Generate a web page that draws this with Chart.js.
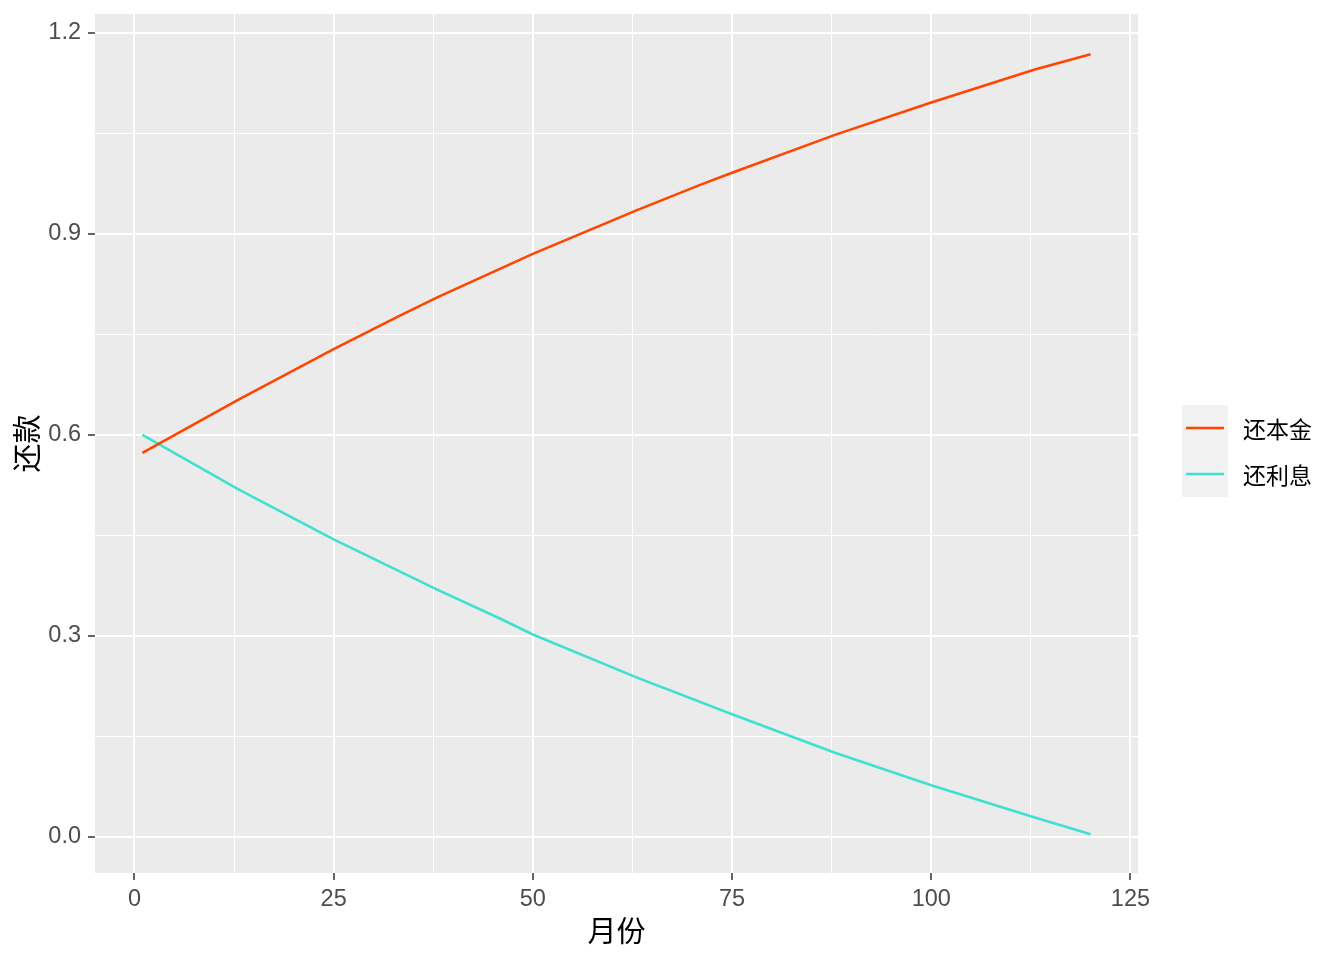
<!DOCTYPE html>
<html>
<head>
<meta charset="utf-8">
<title>还款</title>
<script src="https://cdn.jsdelivr.net/npm/chart.js@4/dist/chart.umd.min.js"></script>
<style>
  html, body { margin: 0; padding: 0; background: #fff; }
  canvas { display: block; }
</style>
</head>
<body>
<canvas id="loanChart" width="1344" height="960"></canvas>
<script>
// values
const seriesNames = ['还本金', '还利息'];
const principalMonths = [1, 13, 25, 33, 38, 50, 63, 71, 75, 88, 100, 113, 120];
const principal = [0.573, 0.652, 0.728, 0.776, 0.805, 0.870, 0.935, 0.973, 0.991, 1.048, 1.096, 1.145, 1.168];
const interestMonths = [1, 13, 25, 38, 46, 50, 63, 75, 88, 100, 113, 120];
const interest = [0.600, 0.519, 0.444, 0.369, 0.325, 0.302, 0.238, 0.183, 0.125, 0.077, 0.029, 0.004];
const xTicks = [0, 25, 50, 75, 100, 125];
const yTicks = [0, 0.3, 0.6, 0.9, 1.2];

// minor grid sits halfway between major ticks
const halfway = t => t.slice(1).map((v, i) => (v + t[i]) / 2);
const xGrid = xTicks.concat(halfway(xTicks));
const yGrid = yTicks.concat(halfway(yTicks));

window.addEventListener('DOMContentLoaded', () => {
  const panelBg = {
    id: 'panelBg',
    beforeDraw(chart) {
      const {ctx, chartArea: a} = chart;
      ctx.save();
      ctx.fillStyle = '#EBEBEB';
      ctx.fillRect(a.left, a.top, a.right - a.left, a.bottom - a.top);
      ctx.restore();
    }
  };

  // ggplot style legend with grey key boxes
  const keyLegend = {
    id: 'keyLegend',
    afterDraw(chart) {
      const {ctx} = chart;
      ctx.save();
      chart.data.datasets.forEach((ds, i) => {
        const top = 405 + i * 46;
        ctx.fillStyle = '#F2F2F2';
        ctx.fillRect(1182, top, 46, 46);
        ctx.strokeStyle = ds.borderColor;
        ctx.lineWidth = ds.borderWidth;
        ctx.beginPath();
        ctx.moveTo(1186, top + 23);
        ctx.lineTo(1224, top + 23);
        ctx.stroke();
        ctx.fillStyle = '#000';
        ctx.font = '23px "Noto Sans CJK SC"';
        ctx.textBaseline = 'middle';
        ctx.fillText(ds.label, 1243, top + 24);
      });
      ctx.restore();
    }
  };

  const tickFont = {family: '"Liberation Sans", Arial, sans-serif', size: 23.5};
  const titleFont = {family: '"Noto Sans CJK SC", sans-serif', size: 29};
  const gridWidth = (list) => c => (list.includes(c.tick.value) ? 2 : 1);
  const tickColor = (list) => c => (list.includes(c.tick.value) ? '#333333' : 'rgba(0,0,0,0)');

  const ctx = document.getElementById('loanChart').getContext('2d');
  new Chart(ctx, {
    type: 'line',
    data: {
      datasets: [{
        label: seriesNames[0],
        data: principalMonths.map((m, i) => ({x: m, y: principal[i]})),
        borderColor: '#FF4500',
        borderWidth: 2.6,
        pointRadius: 0,
        tension: 0
      }, {
        label: seriesNames[1],
        data: interestMonths.map((m, i) => ({x: m, y: interest[i]})),
        borderColor: '#40E0D0',
        borderWidth: 2.6,
        pointRadius: 0,
        tension: 0
      }]
    },
    options: {
      responsive: false,
      animation: false,
      layout: {autoPadding: false, padding: {top: 14, right: 206, left: 0, bottom: 0}},
      plugins: {
        legend: {display: false},
        tooltip: {enabled: false}
      },
      scales: {
        x: {
          type: 'linear',
          min: -4.95,
          max: 125.95,
          afterBuildTicks: s => { s.ticks = xGrid.map(v => ({value: v})); },
          afterFit: s => { s.height = 87; s.paddingLeft = 0; s.paddingRight = 0; },
          border: {display: false},
          grid: {
            color: '#FFFFFF',
            lineWidth: gridWidth(xTicks),
            tickColor: tickColor(xTicks),
            tickLength: 7,
            tickWidth: 1.5
          },
          ticks: {
            autoSkip: false,
            maxRotation: 0,
            padding: 5,
            color: '#4D4D4D',
            font: tickFont,
            callback: v => (xTicks.includes(v) ? String(v) : '')
          },
          title: {
            display: true,
            text: '月份',
            color: '#000',
            font: titleFont,
            padding: {top: 0, bottom: 12}
          }
        },
        y: {
          type: 'linear',
          min: -0.054,
          max: 1.228,
          afterBuildTicks: s => { s.ticks = yGrid.map(v => ({value: v})); },
          afterFit: s => { s.width = 95; s.paddingTop = 0; s.paddingBottom = 0; },
          border: {display: false},
          grid: {
            color: '#FFFFFF',
            lineWidth: gridWidth(yTicks),
            tickColor: tickColor(yTicks),
            tickLength: 7,
            tickWidth: 1.5
          },
          ticks: {
            autoSkip: false,
            padding: 7,
            color: '#4D4D4D',
            font: tickFont,
            callback: v => (yTicks.includes(v) ? v.toFixed(1) : '')
          },
          title: {
            display: true,
            text: '还款',
            color: '#000',
            font: titleFont,
            padding: {top: 10, bottom: 0}
          }
        }
      }
    },
    plugins: [panelBg, keyLegend]
  });
});
</script>
</body>
</html>
